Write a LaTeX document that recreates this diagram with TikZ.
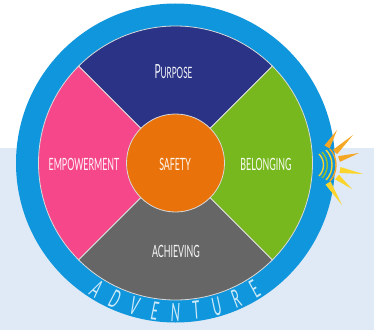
\documentclass[tikz,border=0pt]{standalone}
\usepackage{fontspec}
\usetikzlibrary{calc}
\setmainfont{Lato}
\definecolor{paleblue}{HTML}{DFEAF6}
\definecolor{ringblue}{HTML}{0F96DC}
\definecolor{navy}{HTML}{2A3386}
\definecolor{pinkw}{HTML}{F5478A}
\definecolor{greenw}{HTML}{76B81E}
\definecolor{grayw}{HTML}{666666}
\definecolor{orangec}{HTML}{E9730A}
\definecolor{rayo}{HTML}{F5A623}
\definecolor{rayy}{HTML}{FBD52B}
\tikzset{
  wedge/.style={draw=white!85!black,line width=0.8pt},
  lab/.style={text=white,font=\fontsize{13}{13}\selectfont,inner sep=0pt,opacity=0.95},
  ringlab/.style={text=white!80!ringblue,font=\fontsize{18}{18}\selectfont,inner sep=0pt},
  ray/.style={line width=0pt,fill=#1},
  wave/.style={line width=1.4pt,draw=#1}
}
\newcommand{\narrow}[1]{\scalebox{0.68}[1.3]{#1}}
\newcommand{\ringnarrow}[1]{\scalebox{0.72}[1.4]{\itshape #1}}
\begin{document}
\begin{tikzpicture}[x=1pt,y=1pt]
\useasboundingbox (0,0) rectangle (374,330);
\fill[white] (0,0) rectangle (374,330);
\fill[paleblue] (0,0) rectangle (374,182);
\coordinate (c) at (175.5,167);
% outer ring
\fill[ringblue] (c) circle (159.5);
% wedges
\def\rr{137}
\draw[wedge,fill=navy] (c) -- ++(45:\rr) arc (45:135:\rr) -- cycle;
\draw[wedge,fill=pinkw] (c) -- ++(135:\rr) arc (135:225:\rr) -- cycle;
\draw[wedge,fill=grayw] (c) -- ++(225:\rr) arc (225:315:\rr) -- cycle;
\draw[wedge,fill=greenw] (c) -- ++(315:\rr) arc (315:405:\rr) -- cycle;
\node[circle,minimum size=98pt,inner sep=0pt,fill=orangec,draw=white!85!black,line width=0.8pt] (hub) at (c) {};
\node[lab] (purpose) at (173.5,258) {\narrow{\fontsize{15}{15}\selectfont P\fontsize{12}{12}\selectfont URPOSE}};
\node[lab] (empower) at (84,166) {\narrow{EMPOWERMENT}};
\node[lab] (safety) at (175,166) {\narrow{SAFETY}};
\node[lab] (belonging) at (266,166) {\narrow{BELONGING}};
\node[lab] (achieving) at (176,79) {\narrow{ACHIEVING}};
% ring label
\foreach \L/\a in {A/-32,D/-24,V/-16,E/-8,N/0,T/8,U/16,R/24,E/32}{
  \node[ringlab,rotate=\a] at ($(c)+(270+\a:149)$) {\ringnarrow{\L}};
}
% sun
\foreach \x/\y/\u/\v/\col in {327/183/337/200/rayo,335/178/353/195/rayo,339/171/359/177/rayo,340/160/363/156/rayy,337/153/352/141/rayy,328/147/342/125/rayy}{
  \coordinate (ra) at ($(\x,\y)!3pt!90:(\u,\v)$);
  \coordinate (rb) at ($(\x,\y)!3pt!-90:(\u,\v)$);
  \fill[ray=\col] (ra) -- (\u,\v) -- (rb) -- cycle;
}
\draw[wave=rayo] (330,181) .. controls (338,172) and (338,158) .. (330,149);
\draw[wave=rayy] (326,180) .. controls (334,172) and (334,158) .. (326,150);
\draw[wave=greenw!70!rayy] (322,178) .. controls (329,171) and (329,159) .. (322,152);
\draw[wave=rayy] (319,176) .. controls (325,170) and (325,160) .. (319,154);
\end{tikzpicture}
\end{document}
